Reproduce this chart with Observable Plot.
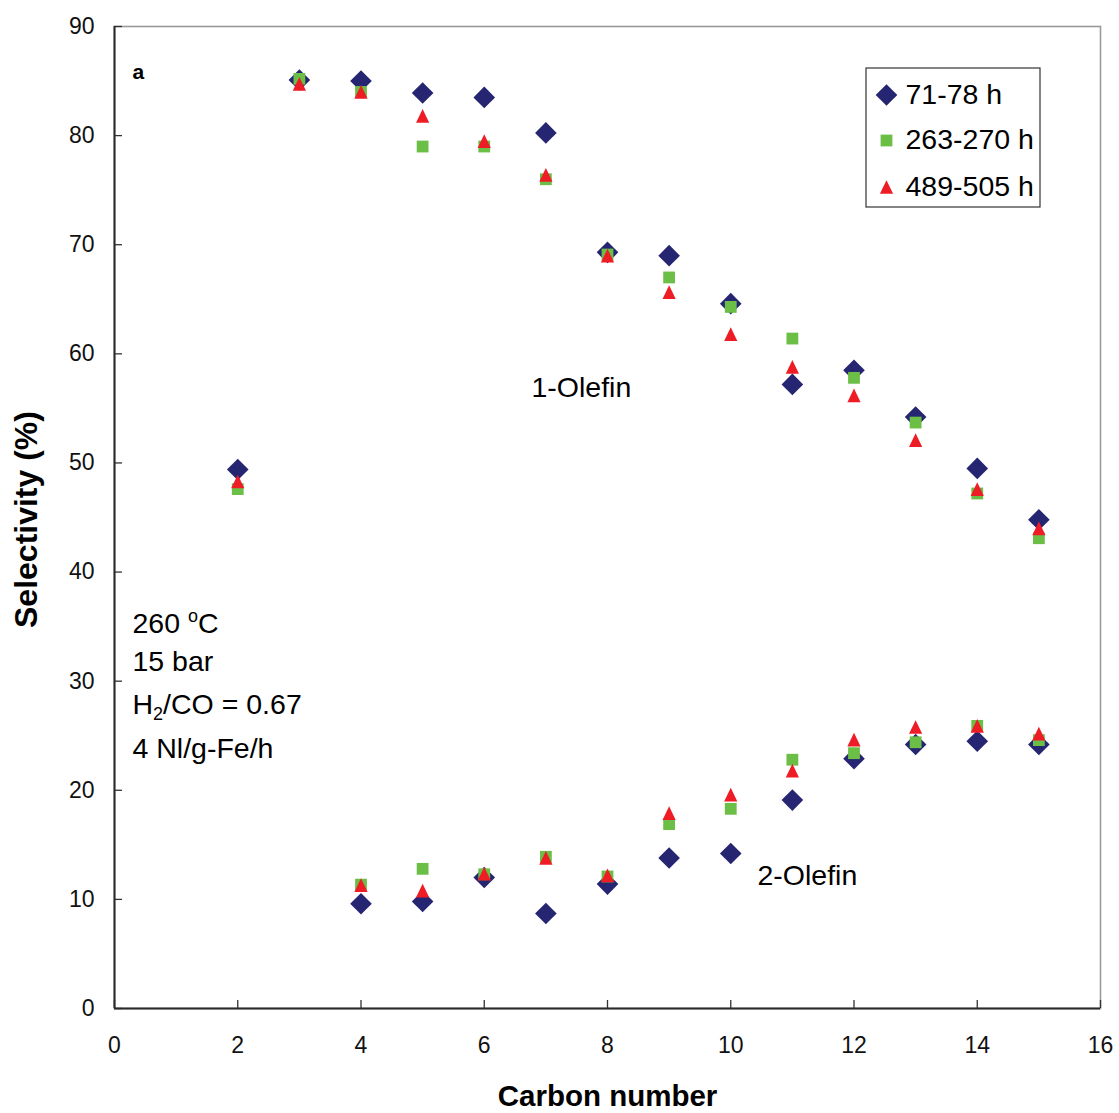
<!DOCTYPE html>
<html>
<head>
<meta charset="utf-8">
<script src="https://cdn.jsdelivr.net/npm/d3@7"></script>
<script src="https://cdn.jsdelivr.net/npm/@observablehq/plot@0.6"></script>
<style>
  html, body { margin: 0; padding: 0; background: #fff; }
  #chart svg { display: block; font-family: Arial, "Liberation Sans", sans-serif; }
</style>
</head>
<body>
<div id="chart"></div>
<script>
// ---- data ----
const carbon1 = [2, 3, 4, 5, 6, 7, 8, 9, 10, 11, 12, 13, 14, 15];
const olefin1_71_78   = [49.4, 85.1, 85.0, 83.9, 83.5, 80.25, 69.3, 69.0, 64.6, 57.2, 58.5, 54.2, 49.5, 44.8];
const olefin1_263_270 = [47.6, 85.2, 84.0, 79.0, 79.0, 76.0, 69.1, 67.0, 64.3, 61.4, 57.8, 53.7, 47.2, 43.1];
const olefin1_489_505 = [48.3, 84.75, 84.0, 81.8, 79.5, 76.4, 69.0, 65.65, 61.8, 58.8, 56.2, 52.1, 47.6, 44.0];

const carbon2 = [4, 5, 6, 7, 8, 9, 10, 11, 12, 13, 14, 15];
const olefin2_71_78   = [9.6, 9.8, 12.0, 8.7, 11.4, 13.8, 14.2, 19.1, 22.9, 24.2, 24.5, 24.2];
const olefin2_263_270 = [11.35, 12.8, 12.3, 13.9, 12.1, 16.9, 18.3, 22.8, 23.4, 24.4, 25.9, 24.6];
const olefin2_489_505 = [11.3, 10.8, 12.35, 13.8, 12.2, 17.9, 19.6, 21.8, 24.65, 25.8, 25.9, 25.2];

const seriesNames = ["71-78 h", "263-270 h", "489-505 h"];
const xTicks = [0, 2, 4, 6, 8, 10, 12, 14, 16];
const yTicks = [0, 10, 20, 30, 40, 50, 60, 70, 80, 90];
const conditions = ["260 °C", "15 bar", "H2/CO = 0.67", "4 Nl/g-Fe/h"];

// ---- tidy table ----
const rows = [];
[[olefin1_71_78, olefin2_71_78], [olefin1_263_270, olefin2_263_270], [olefin1_489_505, olefin2_489_505]]
  .forEach(([a, b], i) => {
    carbon1.forEach((c, j) => rows.push({series: seriesNames[i], carbon: c, value: a[j], kind: "1-Olefin"}));
    carbon2.forEach((c, j) => rows.push({series: seriesNames[i], carbon: c, value: b[j], kind: "2-Olefin"}));
  });

// ---- custom symbols (size = pi r^2) ----
const diamondSym = {draw(ctx, size) { const a = Math.sqrt(size / Math.PI);
  ctx.moveTo(0, -a); ctx.lineTo(a, 0); ctx.lineTo(0, a); ctx.lineTo(-a, 0); ctx.closePath(); }};
const squareSym = {draw(ctx, size) { const a = Math.sqrt(size / Math.PI);
  ctx.rect(-a, -a, 2 * a, 2 * a); }};
const triangleSym = {draw(ctx, size) { const a = Math.sqrt(size / Math.PI);
  ctx.moveTo(0, -a * 1.04); ctx.lineTo(a, a * 1.04); ctx.lineTo(-a, a * 1.04); ctx.closePath(); }};

const style = {
  "71-78 h":   {symbol: diamondSym,  r: 10.8, fill: "#252571"},
  "263-270 h": {symbol: squareSym,   r: 5.9,  fill: "#6bbf47"},
  "489-505 h": {symbol: triangleSym, r: 6.6,  fill: "#ee1d25"}
};

const W = 1119, H = 1113;
const mL = 114, mT = 26, mR = 19, mB = 105;
const font = 28.5;

const marks = [];
marks.push(Plot.frame({stroke: "#9a9a9a", strokeWidth: 1.6}));
// inward ticks
marks.push(Plot.axisY(yTicks, {tickSize: 8, dx: 8, tickFormat: () => "", label: null, stroke: "#333", strokeWidth: 1.3}));
marks.push(Plot.axisX(xTicks, {tickSize: 8, dy: -8, tickFormat: () => "", label: null, stroke: "#333", strokeWidth: 1.3}));
// tick labels
marks.push(Plot.axisY(yTicks, {tickSize: 0, tickPadding: 20, fontSize: 23, fill: "#111", label: null}));
marks.push(Plot.axisX(xTicks, {tickSize: 0, tickPadding: 28, fontSize: 23, fill: "#111", label: null}));
// axis lines
marks.push(Plot.ruleX([0], {stroke: "#2a2a2a", strokeWidth: 2}));
marks.push(Plot.ruleY([0], {stroke: "#2a2a2a", strokeWidth: 2}));

// data
seriesNames.forEach(s => {
  marks.push(Plot.dot(rows.filter(d => d.series === s), {
    x: "carbon", y: "value", symbol: () => style[s].symbol, r: style[s].r, fill: style[s].fill, stroke: null
  }));
});

// axis titles
marks.push(Plot.text(["Selectivity (%)"], {frameAnchor: "left", dx: -78, dy: 2, rotate: -90, fontSize: 32,
  fontWeight: "bold", textAnchor: "middle", lineAnchor: "bottom", fill: "#000"}));
marks.push(Plot.text(["Carbon number"], {frameAnchor: "bottom", dy: 97, fontSize: 29.5,
  fontWeight: "bold", textAnchor: "middle", lineAnchor: "bottom", fill: "#000"}));

// annotations
marks.push(Plot.text(["a"], {frameAnchor: "top-left", dx: 18, dy: 52, fontSize: 21, fontWeight: "bold",
  textAnchor: "start", lineAnchor: "bottom", fill: "#000"}));
marks.push(Plot.text(["1-Olefin"], {frameAnchor: "top-left", dx: 417, dy: 370, fontSize: font,
  textAnchor: "start", lineAnchor: "bottom", fill: "#000"}));
marks.push(Plot.text(["2-Olefin"], {frameAnchor: "top-left", dx: 643, dy: 858, fontSize: font,
  textAnchor: "start", lineAnchor: "bottom", fill: "#000"}));
const condDy = [606, 644, 687, 731];
conditions.forEach((t, i) => {
  marks.push(Plot.text([t], {frameAnchor: "top-left", dx: 18, dy: condDy[i], fontSize: font,
    textAnchor: "start", lineAnchor: "bottom", fill: "#000", className: "cond" + i}));
});

// legend box
marks.push((index, scales, values, dims, context) => {
  const r = context.document.createElementNS("http://www.w3.org/2000/svg", "rect");
  r.setAttribute("x", 866); r.setAttribute("y", 68);
  r.setAttribute("width", 174); r.setAttribute("height", 139);
  r.setAttribute("fill", "#fff"); r.setAttribute("stroke", "#333"); r.setAttribute("stroke-width", 1.2);
  return r;
});
const legDy = [68.5, 114, 160.5];
seriesNames.forEach((s, i) => {
  marks.push(Plot.dot([s], {frameAnchor: "top-left", dx: 772, dy: legDy[i],
    symbol: () => style[s].symbol, r: style[s].r, fill: style[s].fill, stroke: null}));
  marks.push(Plot.text([s], {frameAnchor: "top-left", dx: 791, dy: legDy[i] - 0.5, fontSize: font,
    textAnchor: "start", lineAnchor: "middle", fill: "#000"}));
});

const chart = Plot.plot({
  width: W, height: H,
  marginLeft: mL, marginTop: mT, marginRight: mR, marginBottom: mB,
  style: {fontFamily: "Arial, 'Liberation Sans', sans-serif", background: "#fff"},
  x: {domain: [0, 16], axis: null},
  y: {domain: [0, 90], axis: null},
  marks
});
document.getElementById("chart").appendChild(chart);

// superscript / subscript in the conditions text
const svg = d3.select(chart);
svg.select(".cond0 text").each(function() {
  const t = d3.select(this); t.text("");
  t.append("tspan").text("260 ");
  t.append("tspan").attr("font-size", 18).attr("dy", -11).text("o");
  t.append("tspan").attr("dy", 11).text("C");
});
svg.select(".cond2 text").each(function() {
  const t = d3.select(this); t.text("");
  t.append("tspan").text("H");
  t.append("tspan").attr("font-size", 18).attr("dy", 6).text("2");
  t.append("tspan").attr("dy", -6).text("/CO = 0.67");
});
</script>
</body>
</html>
